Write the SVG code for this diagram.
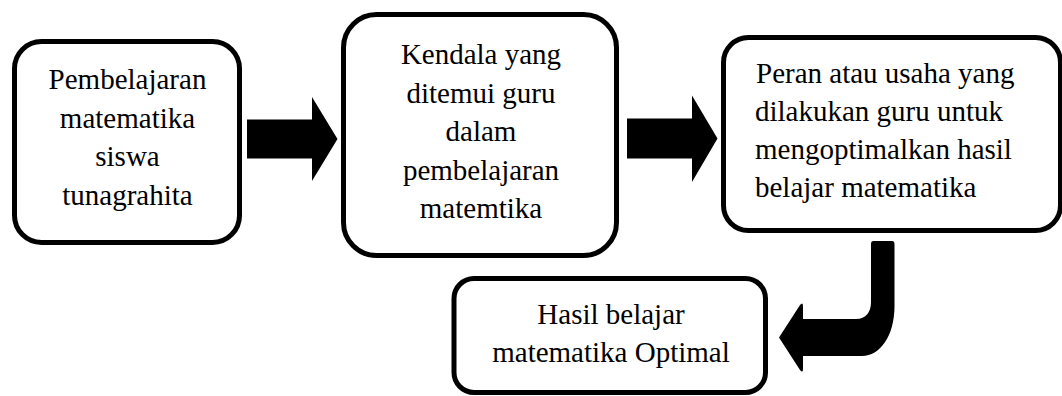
<svg xmlns="http://www.w3.org/2000/svg" width="1062" height="396" viewBox="0 0 1062 396">
<style>
.box{fill:#fff;stroke:#000;stroke-width:5}
text{font-family:'Liberation Serif','Times New Roman','DejaVu Serif',serif;font-size:29px;fill:#000}
.c{text-anchor:middle}
.arr{fill:#000}
</style>
<rect width="1062" height="396" fill="#fff"/>
<g id="node1" font-family="Liberation Serif, Times New Roman, serif">
<rect class="box" x="14.5" y="41.5" width="225" height="201" rx="27"/>
<text class="c" x="127.5" y="89">Pembelajaran</text>
<text class="c" x="127.5" y="127.5">matematika</text>
<text class="c" x="127.5" y="166">siswa</text>
<text class="c" x="127.5" y="204.5">tunagrahita</text>
</g>
<g id="node2" font-family="Liberation Serif, Times New Roman, serif">
<rect class="box" x="343.5" y="14.5" width="273" height="241" rx="33"/>
<text class="c" x="481" y="64">Kendala yang</text>
<text class="c" x="481" y="102.5">ditemui guru</text>
<text class="c" x="481" y="141">dalam</text>
<text class="c" x="481" y="179.5">pembelajaran</text>
<text class="c" x="481" y="218">matemtika</text>
</g>
<g id="node3" font-family="Liberation Serif, Times New Roman, serif">
<rect class="box" x="723.5" y="37.5" width="337" height="193" rx="25"/>
<text x="756" y="82.5">Peran atau usaha yang</text>
<text x="755" y="120.5">dilakukan guru untuk</text>
<text x="755" y="158.5">mengoptimalkan hasil</text>
<text x="755" y="196.5">belajar matematika</text>
</g>
<g id="node4" font-family="Liberation Serif, Times New Roman, serif">
<rect class="box" x="454" y="278.5" width="311.5" height="114" rx="20"/>
<text class="c" x="611" y="323.5">Hasil belajar</text>
<text class="c" x="611" y="362">matematika Optimal</text>
</g>
<g id="connectors">
<path class="arr" d="M247 119.5 L312 119.5 L312 97 L337.5 139 L312 181 L312 158.5 L247 158.5 Z"/>
<path class="arr" d="M627 118.5 L692 118.5 L692 95.5 L717.5 138.5 L692 182 L692 158.5 L627 158.5 Z"/>
<path class="arr" d="M873.5 241 L892 241 Q 894.5 241 894.5 244 L894.5 306 C 894.5 336 880 356 862 356 L803 356 L803 369 Q 803 373.5 800 370 L779 337.5 L800 305 Q 803 301.5 803 306 L803 319 L856 319 C 866 319 871 312 871 302 L871 244 Q 871 241 873.5 241 Z"/>
</g>
</svg>
